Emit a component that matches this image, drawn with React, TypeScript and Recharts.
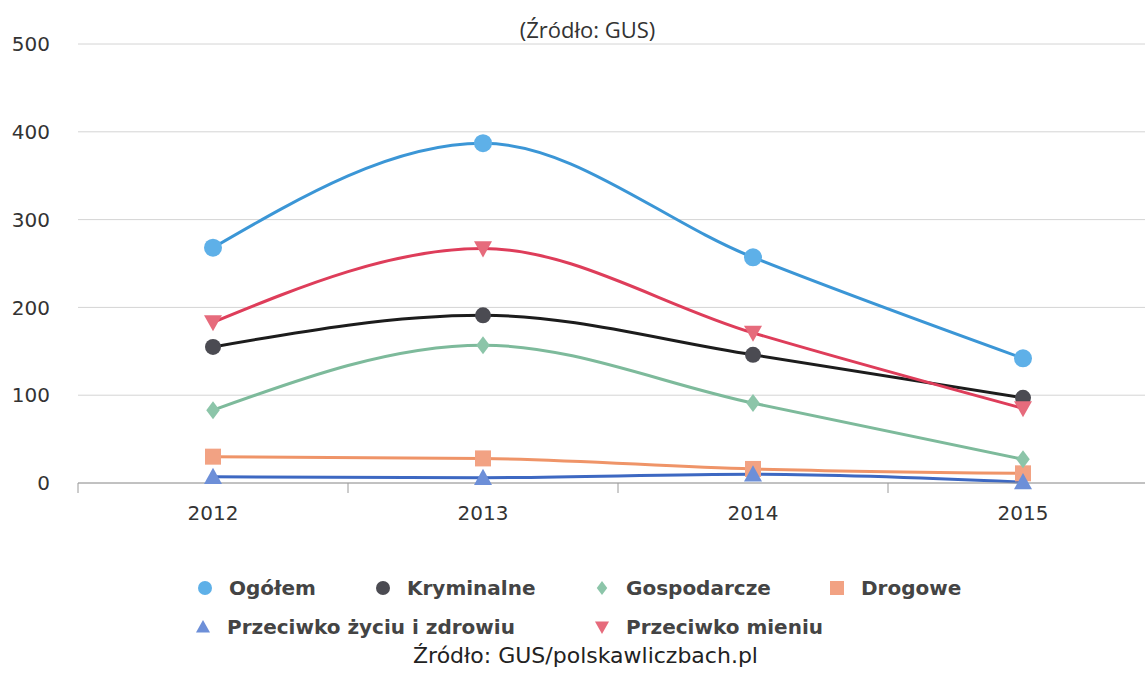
import { CartesianGrid, Line, LineChart, XAxis, YAxis } from "recharts"

// Lata i wartości
const years = ["2012", "2013", "2014", "2015"]
const ogolem = [268, 387, 257, 142]
const kryminalne = [155, 191, 146, 97]
const gospodarcze = [83, 157, 91, 27]
const drogowe = [30, 28, 16, 11]
const zycie = [7, 6, 10, 1]
const mienie = [183, 267, 171, 85]
const yTicks = [0, 100, 200, 300, 400, 500]
// etykiety w środkach kategorii, kreski na granicach
const xTicks = [-0.5, 0, 0.5, 1, 1.5, 2, 2.5, 3]

const data = years.map((year, i) => ({
  idx: i,
  year,
  ogolem: ogolem[i],
  kryminalne: kryminalne[i],
  gospodarcze: gospodarcze[i],
  drogowe: drogowe[i],
  zycie: zycie[i],
  mienie: mienie[i],
}))

type Shape = "circle" | "diamond" | "square" | "triangle" | "triangleDown"

const series: { key: string; name: string; line: string; fill: string; shape: Shape; size: number }[] = [
  { key: "ogolem", name: "Ogółem", line: "#3b96d6", fill: "#5eb0e8", shape: "circle", size: 9 },
  { key: "drogowe", name: "Drogowe", line: "#ef9468", fill: "#f2a283", shape: "square", size: 8 },
  { key: "zycie", name: "Przeciwko życiu i zdrowiu", line: "#3d68c2", fill: "#6d8fd8", shape: "triangle", size: 9 },
  { key: "gospodarcze", name: "Gospodarcze", line: "#7dba9b", fill: "#8cc5a9", shape: "diamond", size: 9 },
  { key: "kryminalne", name: "Kryminalne", line: "#1c1c1c", fill: "#4b4b52", shape: "circle", size: 8 },
  { key: "mienie", name: "Przeciwko mieniu", line: "#de3d5a", fill: "#e66b7c", shape: "triangleDown", size: 9 },
]

function Marker({ cx, cy, shape, size, fill }: { cx: number; cy: number; shape: Shape; size: number; fill: string }) {
  const s = size
  if (shape === "circle") return <circle cx={cx} cy={cy} r={s} fill={fill} />
  if (shape === "square") return <rect x={cx - s} y={cy - s} width={s * 2} height={s * 2} fill={fill} />
  if (shape === "diamond")
    return <path d={`M${cx},${cy - s}L${cx + s * 0.75},${cy}L${cx},${cy + s}L${cx - s * 0.75},${cy}Z`} fill={fill} />
  if (shape === "triangle")
    return <path d={`M${cx},${cy - s}L${cx + s},${cy + s * 0.8}L${cx - s},${cy + s * 0.8}Z`} fill={fill} />
  return <path d={`M${cx},${cy + s}L${cx + s},${cy - s * 0.8}L${cx - s},${cy - s * 0.8}Z`} fill={fill} />
}

function YearTick({ x, y, payload }: any) {
  const v = payload.value
  if (!Number.isInteger(v)) {
    return <line x1={x} x2={x} y1={y} y2={y + 10} stroke="#9a9a9a" />
  }
  return (
    <text x={x} y={y + 23} dy="0.71em" textAnchor="middle" fill="#333" fontSize={20}>
      {years[v]}
    </text>
  )
}

// pozycje elementów legendy (dwa wiersze)
const legendPos: Record<string, [number, number]> = {
  ogolem: [205, 588],
  kryminalne: [383, 588],
  gospodarcze: [602, 588],
  drogowe: [837, 588],
  zycie: [203, 627],
  mienie: [602, 627],
}

export default function App() {
  return (
    <div
      style={{
        position: "absolute",
        left: 0,
        top: 0,
        width: 1145,
        height: 677,
        overflow: "hidden",
        background: "#fff",
        fontFamily: "'DejaVu Sans', sans-serif",
      }}
    >
      <div
        style={{
          position: "absolute",
          top: 14,
          left: 0,
          width: 1175,
          textAlign: "center",
          fontFamily: "'Open Sans', sans-serif",
          fontSize: 22,
          color: "#333",
        }}
      >
        (Źródło: GUS)
      </div>
      <LineChart width={1160} height={677} data={data} margin={{ top: 44, right: 2, bottom: 154, left: 0 }}>
        <CartesianGrid vertical={false} stroke="#d4d4d4" />
        <XAxis
          type="number"
          dataKey="idx"
          domain={[-0.5, 3.5]}
          ticks={xTicks}
          interval={0}
          tick={<YearTick />}
          stroke="#9a9a9a"
          tickLine={false}
          tickSize={0}
          tickMargin={0}
          height={40}
        />
        <YAxis
          width={78}
          domain={[0, 500]}
          ticks={yTicks}
          axisLine={false}
          tickLine={false}
          tickSize={0}
          tickMargin={28}
          tick={{ fill: "#333", fontSize: 20 }}
        />
        {series.map((s) => (
          <Line
            key={s.key}
            type="monotone"
            dataKey={s.key}
            name={s.name}
            stroke={s.line}
            strokeWidth={3}
            isAnimationActive={false}
            dot={(p: any) => (
              <Marker key={`${s.key}-${p.index}`} cx={p.cx} cy={p.cy} shape={s.shape} size={s.size} fill={s.fill} />
            )}
            activeDot={false}
          />
        ))}
      </LineChart>
      {series.map((s) => {
        const [x, y] = legendPos[s.key]
        return (
          <div
            key={s.key}
            style={{
              position: "absolute",
              left: x - 10,
              top: y - 14,
              height: 28,
              display: "flex",
              alignItems: "center",
              fontWeight: "bold",
              fontSize: 20,
              color: "#444",
              whiteSpace: "nowrap",
            }}
          >
            <svg width={20} height={20} style={{ marginRight: 14 }}>
              <Marker cx={10} cy={10} shape={s.shape} size={7} fill={s.fill} />
            </svg>
            {s.name}
          </div>
        )
      })}
      <div
        style={{
          position: "absolute",
          top: 643,
          left: 413,
          fontSize: 22,
          color: "#222",
          whiteSpace: "nowrap",
        }}
      >
        Źródło: GUS/polskawliczbach.pl
      </div>
    </div>
  )
}
